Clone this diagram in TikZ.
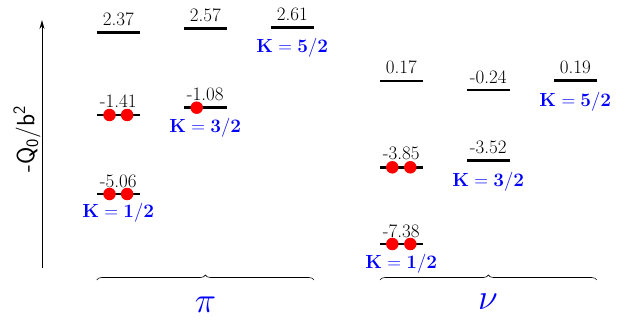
\RequirePackage{fix-cm}
\documentclass[tikz,border=0pt]{standalone}
\usetikzlibrary{decorations.pathreplacing,arrows.meta,positioning,calc}
\begin{document}
\begin{tikzpicture}[x=1pt,y=-1pt,
  lvl/.style={rectangle,fill=black,minimum width=43pt,minimum height=2.6pt,inner sep=0pt},
  num/.style={font=\fontsize{19}{20}\selectfont,inner sep=0pt,anchor=base},
  klab/.style={text=blue,font=\fontsize{19}{20}\selectfont,inner sep=0pt},
  edot/.style={circle,fill=red,minimum size=12.5pt,inner sep=0pt},
  grp/.style={text=blue,font=\fontsize{36}{38}\selectfont,inner sep=0pt},
  brc/.style={decorate,decoration={brace,amplitude=5pt},line width=0.6pt}]
\useasboundingbox (0,0) rectangle (628,321);
% axis
\coordinate (ax0) at (42,268);
\coordinate (ax1) at (42,20);
\draw[line width=1pt,-{Stealth[length=9pt,width=5pt]}] (ax0) -- (ax1);
\node[rotate=90,font=\sffamily\fontsize{25}{27}\selectfont,inner sep=0pt] (ylab) at (27,139) {-Q\textsubscript{0}/b\textsuperscript{2}};
% proton levels
\node[lvl] (p1a) at (118.3,32.7) {};
\node[lvl] (p1b) at (118.3,115) {};
\node[lvl] (p1c) at (118.3,194) {};
\node[lvl] (p2a) at (205.3,28.3) {};
\node[lvl] (p2b) at (205.3,107.7) {};
\node[lvl] (p3a) at (292.3,27.3) {};
\node[num] (t1a) at ($(p1a)+(0,-7)$) {2.37};
\node[num] (t1b) at ($(p1b)+(0,-8)$) {-1.41};
\node[num] (t1c) at ($(p1c)+(0,-7)$) {-5.06};
\node[num] (t2a) at ($(p2a)+(0,-7)$) {2.57};
\node[num] (t2b) at ($(p2b)+(0,-7)$) {-1.08};
\node[num] (t3a) at ($(p3a)+(0,-7)$) {2.61};
\node[edot] (d1) at ($(p1b)+(-8.8,0)$) {};
\node[edot] (d2) at ($(p1b)+(8.8,0)$) {};
\node[edot] (d3) at ($(p1c)+(-8.8,0)$) {};
\node[edot] (d4) at ($(p1c)+(8.8,0)$) {};
\node[edot] (d5) at ($(p2b)+(-8.6,0)$) {};
\node[klab] (k1) at ($(p1c)+(0,19)$) {$\mathbf{K = 1/2}$};
\node[klab] (k2) at ($(p2b)+(0,20)$) {$\mathbf{K = 3/2}$};
\node[klab] (k3) at ($(p3a)+(0,20)$) {$\mathbf{K = 5/2}$};
\coordinate (pb0) at (96.7,280);
\coordinate (pb1) at (314,280);
\draw[brc] (pb0) -- (pb1);
\node[grp] (pi) at (205.5,305) {$\pi$};
% neutron levels
\node[lvl] (n1a) at (401.3,81) {};
\node[lvl] (n1b) at (401.3,167.3) {};
\node[lvl] (n1c) at (401.3,244) {};
\node[lvl] (n2a) at (488.3,90) {};
\node[lvl] (n2b) at (488.3,160.7) {};
\node[lvl] (n3a) at (575.3,80.7) {};
\node[num] (u1a) at ($(n1a)+(0,-7)$) {0.17};
\node[num] (u1b) at ($(n1b)+(0,-8)$) {-3.85};
\node[num] (u1c) at ($(n1c)+(0,-7)$) {-7.38};
\node[num] (u2a) at ($(n2a)+(0,-7)$) {-0.24};
\node[num] (u2b) at ($(n2b)+(0,-7)$) {-3.52};
\node[num] (u3a) at ($(n3a)+(0,-7)$) {0.19};
\node[edot] (e1) at ($(n1b)+(-9,0)$) {};
\node[edot] (e2) at ($(n1b)+(9,0)$) {};
\node[edot] (e3) at ($(n1c)+(-9,0)$) {};
\node[edot] (e4) at ($(n1c)+(9,0)$) {};
\node[klab] (m1) at ($(n1c)+(0,20)$) {$\mathbf{K = 1/2}$};
\node[klab] (m2) at ($(n2b)+(0,21)$) {$\mathbf{K = 3/2}$};
\node[klab] (m3) at ($(n3a)+(0,21.5)$) {$\mathbf{K = 5/2}$};
\coordinate (nb0) at (380,280);
\coordinate (nb1) at (596.7,280);
\draw[brc] (nb0) -- (nb1);
\node[grp] (nu) at (488,302) {$\nu$};
\end{tikzpicture}
\end{document}
